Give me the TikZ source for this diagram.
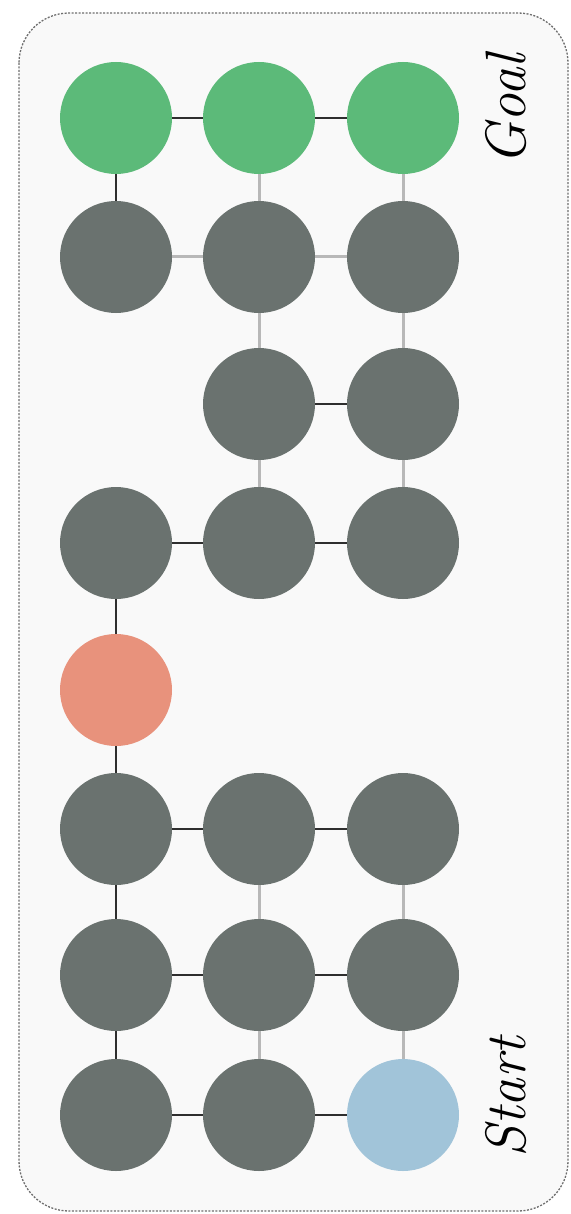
\documentclass[tikz,border=0pt]{standalone}
\usepackage{fontspec}
\definecolor{goalc}{HTML}{5CBA79}
\definecolor{cellc}{HTML}{6A726F}
\definecolor{redc}{HTML}{E8927C}
\definecolor{startc}{HTML}{A1C4D9}
\definecolor{lgray}{HTML}{B8B8B8}
\definecolor{dkline}{HTML}{2E2E2E}
\definecolor{framec}{HTML}{6E6E6E}
\definecolor{framefill}{HTML}{F9F9F9}
\tikzset{
  cell/.style={circle, minimum size=112pt, inner sep=0pt, draw=none, fill=cellc},
  goalcell/.style={cell, fill=goalc},
  redcell/.style={cell, fill=redc},
  startcell/.style={cell, fill=startc},
  pathedge/.style={draw=dkline, line width=2pt},
  gridedge/.style={draw=lgray, line width=3pt},
  framebox/.style={draw=framec, dash pattern=on 2pt off 1.5pt, line width=1.3pt, fill=framefill, rounded corners=50pt},
  lbl/.style={rotate=90, anchor=base, inner sep=0pt, font=\fontsize{57}{64}\selectfont\itshape}
}
\begin{document}
\begin{tikzpicture}[x=1pt,y=-1pt]
\useasboundingbox (0,0) rectangle (570,1214);
\draw[framebox] (19,13) rectangle (568,1211);
% row 1 (goal)
\node[goalcell] (r1c1) at (116,118) {};
\node[goalcell] (r1c2) at (259,118) {};
\node[goalcell] (r1c3) at (403,118) {};
% row 2
\node[cell] (r2c1) at (116,257) {};
\node[cell] (r2c2) at (259,257) {};
\node[cell] (r2c3) at (403,257) {};
% row 3
\node[cell] (r3c2) at (259,404) {};
\node[cell] (r3c3) at (403,404) {};
% row 4
\node[cell] (r4c1) at (116,543) {};
\node[cell] (r4c2) at (259,543) {};
\node[cell] (r4c3) at (403,543) {};
% row 5
\node[redcell] (r5c1) at (116,690) {};
% row 6
\node[cell] (r6c1) at (116,829) {};
\node[cell] (r6c2) at (259,829) {};
\node[cell] (r6c3) at (403,829) {};
% row 7
\node[cell] (r7c1) at (116,975) {};
\node[cell] (r7c2) at (259,975) {};
\node[cell] (r7c3) at (403,975) {};
% row 8
\node[cell] (r8c1) at (116,1115) {};
\node[cell] (r8c2) at (259,1115) {};
\node[startcell] (r8c3) at (403,1115) {};
% horizontal edges
\draw[pathedge] (r1c1) -- (r1c2);
\draw[pathedge] (r1c2) -- (r1c3);
\draw[gridedge] (r2c1) -- (r2c2);
\draw[gridedge] (r2c2) -- (r2c3);
\draw[pathedge] (r3c2) -- (r3c3);
\draw[pathedge] (r4c1) -- (r4c2);
\draw[pathedge] (r4c2) -- (r4c3);
\draw[pathedge] (r6c1) -- (r6c2);
\draw[pathedge] (r6c2) -- (r6c3);
\draw[pathedge] (r7c1) -- (r7c2);
\draw[pathedge] (r7c2) -- (r7c3);
\draw[pathedge] (r8c1) -- (r8c2);
\draw[pathedge] (r8c2) -- (r8c3);
% vertical edges
\draw[pathedge] (r1c1) -- (r2c1);
\draw[gridedge] (r1c2) -- (r2c2);
\draw[gridedge] (r1c3) -- (r2c3);
\draw[gridedge] (r2c2) -- (r3c2);
\draw[gridedge] (r2c3) -- (r3c3);
\draw[gridedge] (r3c2) -- (r4c2);
\draw[gridedge] (r3c3) -- (r4c3);
\draw[pathedge] (r4c1) -- (r5c1);
\draw[pathedge] (r5c1) -- (r6c1);
\draw[pathedge] (r6c1) -- (r7c1);
\draw[gridedge] (r6c2) -- (r7c2);
\draw[gridedge] (r6c3) -- (r7c3);
\draw[pathedge] (r7c1) -- (r8c1);
\draw[gridedge] (r7c2) -- (r8c2);
\draw[gridedge] (r7c3) -- (r8c3);
% labels
\node[lbl] (goal) at (525,110) {Goal};
\node[lbl] (start) at (525,1097) {Start};
\end{tikzpicture}
\end{document}
